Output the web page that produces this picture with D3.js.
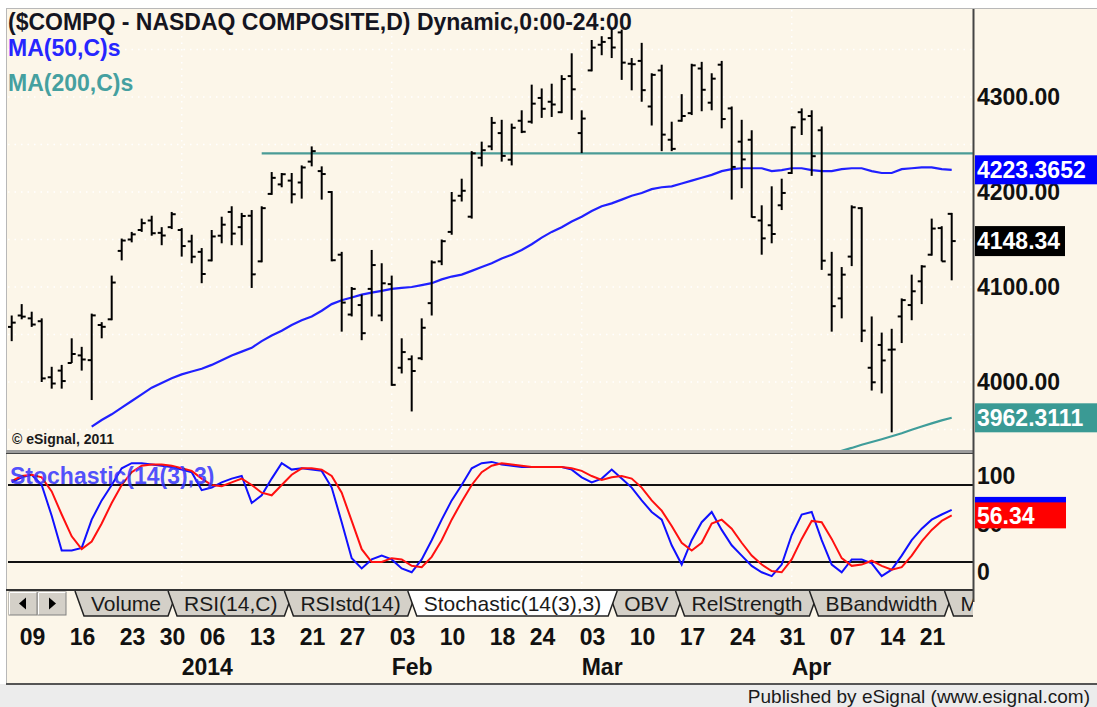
<!DOCTYPE html>
<html lang="en">
<head>
<meta charset="UTF-8">
<script src="https://d3js.org/d3.v7.min.js"></script>
<title>$COMPQ daily</title>
<style>
    body { margin: 0; background: #ffffff; }
    svg { display: block; font-family: "Liberation Sans", Arial, sans-serif; }
</style>
</head>
<body>
<svg id="chart" width="1097" height="707"></svg>
<script>
// trading days shown on the chart
const dates = [
    "2013-12-06","2013-12-09","2013-12-10","2013-12-11","2013-12-12","2013-12-13","2013-12-16","2013-12-17","2013-12-18","2013-12-19","2013-12-20","2013-12-23","2013-12-24","2013-12-26","2013-12-27","2013-12-30","2013-12-31",
    "2014-01-02","2014-01-03","2014-01-06","2014-01-07","2014-01-08","2014-01-09","2014-01-10","2014-01-13","2014-01-14","2014-01-15","2014-01-16","2014-01-17","2014-01-21","2014-01-22","2014-01-23","2014-01-24","2014-01-27","2014-01-28","2014-01-29","2014-01-30","2014-01-31",
    "2014-02-03","2014-02-04","2014-02-05","2014-02-06","2014-02-07","2014-02-10","2014-02-11","2014-02-12","2014-02-13","2014-02-14","2014-02-18","2014-02-19","2014-02-20","2014-02-21","2014-02-24","2014-02-25","2014-02-26","2014-02-27","2014-02-28",
    "2014-03-03","2014-03-04","2014-03-05","2014-03-06","2014-03-07","2014-03-10","2014-03-11","2014-03-12","2014-03-13","2014-03-14","2014-03-17","2014-03-18","2014-03-19","2014-03-20","2014-03-21","2014-03-24","2014-03-25","2014-03-26","2014-03-27","2014-03-28","2014-03-31",
    "2014-04-01","2014-04-02","2014-04-03","2014-04-04","2014-04-07","2014-04-08","2014-04-09","2014-04-10","2014-04-11","2014-04-14","2014-04-15","2014-04-16","2014-04-17","2014-04-21","2014-04-22","2014-04-23","2014-04-24"
];

const opens = [
    4058,4070,4067,4064,4005,4012,4020,4028,4023,4060,4066,4138,4150,4160,4170,4157,4163,
    4160,4148,4137,4128,4154,4179,4163,4175,4127,4198,4208,4212,4210,4232,4222,4200,4134,4071,4081,4098,4070,
    4103,4015,4024,4025,4083,4127,4158,4196,4174,4236,4248,4262,4234,4275,4274,4299,4295,4284,4322,
    4262,4328,4355,4362,4368,4335,4338,4290,4328,4255,4275,4283,4330,4294,4334,4288,4253,4255,4170,4165,4186,
    4220,4284,4280,4265,4113,4088,4132,4183,4015,4039,4034,4069,4081,4106,4134,4162,4177
];
const highs = [
    4070,4082,4074,4067,4016,4018,4046,4037,4072,4063,4112,4151,4158,4172,4175,4163,4179,
    4162,4155,4141,4160,4174,4185,4178,4181,4185,4221,4220,4220,4228,4248,4227,4201,4137,4100,4092,4139,4125,
    4112,4046,4028,4067,4128,4150,4200,4214,4243,4253,4279,4276,4272,4286,4313,4309,4314,4323,4346,
    4286,4360,4364,4372,4371,4341,4357,4325,4334,4274,4303,4335,4337,4325,4338,4290,4276,4265,4186,4206,4214,
    4269,4288,4286,4269,4137,4121,4186,4184,4069,4052,4056,4088,4113,4123,4172,4164,4178
];
const lows = [
    4043,4066,4058,4000,3993,3993,4020,4012,3981,4046,4065,4128,4147,4158,4154,4144,4161,
    4132,4125,4104,4127,4146,4144,4144,4099,4126,4197,4205,4188,4193,4227,4192,4127,4053,4069,4044,4069,4064,
    3996,4009,3969,4023,4070,4123,4155,4190,4172,4227,4244,4232,4228,4262,4272,4278,4279,4283,4276,
    4241,4327,4344,4341,4318,4307,4295,4270,4243,4243,4274,4281,4285,4286,4267,4192,4204,4173,4134,4146,4181,
    4219,4260,4217,4118,4053,4067,4122,4042,3991,3988,3947,4041,4065,4082,4133,4127,4107
];
const closes = [
    4062.5,4068.8,4060.5,4003.8,3998.4,4001.0,4029.5,4023.7,4070.1,4058.1,4104.7,4148.9,4155.4,4167.2,4156.6,4154.2,4176.6,
    4143.1,4131.9,4113.7,4153.2,4165.6,4156.2,4174.7,4113.3,4183.0,4214.9,4218.7,4197.6,4225.8,4243.0,4218.9,4128.2,4083.6,4098.0,4051.4,4123.1,4103.9,
    3997.0,4031.5,4011.6,4057.1,4125.9,4148.2,4191.0,4201.3,4240.7,4244.0,4272.8,4238.0,4267.6,4263.4,4293.0,4287.6,4292.1,4318.9,4308.1,
    4277.3,4352.0,4358.0,4352.1,4336.2,4334.5,4307.2,4323.3,4260.4,4245.4,4280.0,4333.3,4307.6,4319.3,4276.8,4226.4,4234.3,4173.6,4151.2,4155.8,4199.0,
    4268.0,4276.5,4237.7,4127.7,4079.8,4113.0,4183.9,4054.1,3999.7,4022.7,4034.2,4086.2,4095.5,4121.6,4161.5,4127.0,4148.34
];

// moving averages as drawn (null = not drawn)
const ma50 = [
    null,null,null,null,null,null,null,null,3953,3960,3966,3973,3980,3987,3994,3999,4004,
    4008,4011,4014,4018,4023,4028,4032,4036,4043,4049,4054,4060,4065,4069,4075,4082,4086,4089,4092,4094,4096,
    4098,4099,4100,4102,4104,4108,4111,4113,4117,4121,4125,4130,4134,4139,4145,4152,4158,4163,4169,
    4174,4180,4185,4188,4192,4196,4199,4203,4205,4206,4209,4212,4215,4218,4222,4224,4225,4225,4225,4222,4223,
    4225,4225,4223,4222,4222,4224,4225,4225,4222,4220,4220,4224,4225,4226,4226,4224,4223.3652
];
const ma200 = [
    null,null,null,null,null,null,null,null,null,null,null,null,null,null,null,null,null,
    null,null,null,null,null,null,null,null,null,null,null,null,null,null,null,null,null,null,null,null,null,
    null,null,null,null,null,null,null,null,null,null,null,null,null,null,null,null,null,null,null,
    null,null,null,null,null,null,null,null,null,null,null,null,null,null,null,null,null,null,null,null,null,
    null,null,null,null,3924.6,3927.6,3930.6,3933.9,3936.9,3939.8,3942.9,3946.1,3949.8,3953.2,3956.4,3959.6,3962.3111
];

// Stochastic(14(3),3)
const stochK = [
    82,86,88,80,56,29,29,31,53,68,80,93,97,97,96,95,94,
    92,90,76,78,82,85,87,66,72,85,97,92,93,92,91,78,51,23,15,22,25,
    22,15,12,22,37,53,68,80,93,97,98,96,95,94,94,94,94,94,92,
    86,82,85,92,85,78,68,59,53,33,18,37,51,59,45,33,25,17,12,9,18,
    41,57,59,37,18,12,22,22,19,9,14,25,37,46,53,57,60.6
];
const stochD = [
    83,87,88,86,75,57,40,30,36,50,66,80,90,95,96,96,95,
    93,91,85,80,79,82,85,80,74,72,80,88,93,93,92,87,74,52,30,20,20,
    23,22,17,16,24,37,53,67,80,90,95,97,96,95,94,94,94,94,93,
    91,87,84,86,87,85,78,68,60,48,35,29,35,50,53,46,35,25,18,13,12,
    22,38,52,51,38,23,17,18,21,17,14,16,25,36,45,52,56.34
];

const priceTicks = [4000, 4100, 4200, 4300];
const priceGrid = [3950, 4000, 4050, 4100, 4150, 4200, 4250, 4300, 4350];
const stochTicks = [0, 50, 100];
const stochLevels = [20, 80];
const dayTicks = ["2013-12-09","2013-12-16","2013-12-23","2013-12-30","2014-01-06","2014-01-13","2014-01-21","2014-01-27",
    "2014-02-03","2014-02-10","2014-02-18","2014-02-24","2014-03-03","2014-03-10","2014-03-17","2014-03-24","2014-03-31",
    "2014-04-07","2014-04-14","2014-04-21"];
const monthTicks = ["2014-01-02","2014-02-03","2014-03-03","2014-04-01"];
const monthNames = ["2014","Feb","Mar","Apr"];
const hLineValue = 4240.7;
const hLineStart = "2014-01-14";
const tabNames = ["Volume","RSI(14,C)","RSIstd(14)","Stochastic(14(3),3)","OBV","RelStrength","BBandwidth","MACD"];
const activeTab = 3;

// ---------------------------------------------------------------
const svg = d3.select("#chart");
const plotLeft = 8, plotRight = 973;
const priceTop = 10, priceBottom = 450;
const stochTop = 454, stochBottom = 590;
const cream = "#fcf6e9";

const x = d3.scalePoint().domain(dates).range([11.7, 951.7]);
const y = d3.scaleLinear().domain([4000, 4300]).range([382, 97]);
const ys = d3.scaleLinear().domain([20, 80]).range([562, 485]);
const ysLabel = d3.scaleLinear().domain([0, 100]).range([572, 476]);

// background + frame
svg.append("rect").attr("x", 0).attr("y", 0).attr("width", 1097).attr("height", 707).attr("fill", "#ffffff");
svg.append("rect").attr("x", 6).attr("y", 8).attr("width", 1091).attr("height", 676).attr("fill", cream);
svg.append("line").attr("x1", 6).attr("x2", 1097).attr("y1", 8.5).attr("y2", 8.5).attr("stroke", "#b8b8b8");
svg.append("line").attr("x1", 6.5).attr("x2", 6.5).attr("y1", 8).attr("y2", 684).attr("stroke", "#b8b8b8");

const defs = svg.append("defs");
defs.append("clipPath").attr("id", "clipPrice").append("rect")
    .attr("x", plotLeft).attr("y", priceTop).attr("width", plotRight - plotLeft).attr("height", priceBottom - priceTop);
defs.append("clipPath").attr("id", "clipStoch").append("rect")
    .attr("x", plotLeft).attr("y", stochTop).attr("width", plotRight - plotLeft).attr("height", stochBottom - stochTop);

// dotted grid
const grid = svg.append("g").attr("stroke", "#ffffff").attr("stroke-width", 1.5).attr("stroke-dasharray", "1.5 5");
grid.selectAll(".gh").data(priceGrid).enter().append("line")
    .attr("x1", plotLeft).attr("x2", plotRight).attr("y1", d => y(d)).attr("y2", d => y(d));
grid.selectAll(".gv").data(monthTicks).enter().append("line")
    .attr("x1", d => x(d)).attr("x2", d => x(d)).attr("y1", priceTop).attr("y2", stochBottom);

// title block
svg.append("text").attr("x", 8).attr("y", 30).attr("font-size", 23).attr("font-weight", "bold")
    .attr("fill", "#15151f").text("($COMPQ - NASDAQ COMPOSITE,D) Dynamic,0:00-24:00");
svg.append("text").attr("x", 8).attr("y", 56).attr("font-size", 23).attr("font-weight", "bold")
    .attr("fill", "#2626ff").text("MA(50,C)s");
svg.append("text").attr("x", 8).attr("y", 91).attr("font-size", 23).attr("font-weight", "bold")
    .attr("fill", "#45a0a0").text("MA(200,C)s");
svg.append("text").attr("x", 12).attr("y", 444).attr("font-size", 14).attr("font-weight", "bold")
    .attr("fill", "#1a1a1a").text("\u00a9 eSignal, 2011");

// price pane
const price = svg.append("g").attr("clip-path", "url(#clipPrice)");

price.append("line")
    .attr("x1", x(hLineStart)).attr("x2", plotRight)
    .attr("y1", y(hLineValue)).attr("y2", y(hLineValue))
    .attr("stroke", "#4a9b96").attr("stroke-width", 2.2);

const maLine = d3.line().defined(d => d[1] !== null).x(d => x(d[0])).y(d => y(d[1]));
price.append("path").attr("d", maLine(dates.map((d, i) => [d, ma50[i]])))
    .attr("fill", "none").attr("stroke", "#2020ff").attr("stroke-width", 2.2);
price.append("path").attr("d", maLine(dates.map((d, i) => [d, ma200[i]])))
    .attr("fill", "none").attr("stroke", "#3f9d9a").attr("stroke-width", 2.2);

const bars = price.append("g").attr("stroke", "#000").attr("stroke-width", 2);
bars.selectAll(".hl").data(dates).enter().append("line")
    .attr("x1", d => x(d)).attr("x2", d => x(d))
    .attr("y1", (d, i) => y(highs[i])).attr("y2", (d, i) => y(lows[i]));
bars.selectAll(".op").data(dates).enter().append("line")
    .attr("x1", d => x(d) - 4).attr("x2", d => x(d))
    .attr("y1", (d, i) => y(opens[i])).attr("y2", (d, i) => y(opens[i]));
bars.selectAll(".cl").data(dates).enter().append("line")
    .attr("x1", d => x(d)).attr("x2", d => x(d) + 4)
    .attr("y1", (d, i) => y(closes[i])).attr("y2", (d, i) => y(closes[i]));

// price axis labels
svg.selectAll(".pt").data(priceTicks).enter().append("text")
    .attr("x", 977).attr("y", d => y(d)).attr("dy", "0.36em")
    .attr("font-size", 23).attr("font-weight", "bold").attr("fill", "#111")
    .text(d => d3.format(".2f")(d));

function valueBox(v, label, fill, w, h) {
    svg.append("rect").attr("x", 975).attr("y", y(v) - h / 2).attr("width", w).attr("height", h).attr("fill", fill);
    svg.append("text").attr("x", 977).attr("y", y(v)).attr("dy", "0.36em")
        .attr("font-size", 23).attr("font-weight", "bold").attr("fill", "#fff").text(label);
}
valueBox(ma50[ma50.length - 1], "4223.3652", "#0000ff", 122, 29);
valueBox(closes[closes.length - 1], "4148.34", "#000000", 90, 30);
valueBox(ma200[ma200.length - 1], "3962.3111", "#3a9a94", 122, 29);

// pane separator
svg.append("rect").attr("x", 6).attr("y", priceBottom).attr("width", plotRight - 6).attr("height", 4).attr("fill", "#9c9c9c");
svg.append("line").attr("x1", 6).attr("x2", plotRight).attr("y1", priceBottom + 3.5).attr("y2", priceBottom + 3.5).attr("stroke", "#444");

// stochastic pane
const stoch = svg.append("g").attr("clip-path", "url(#clipStoch)");
stoch.selectAll(".lv").data(stochLevels).enter().append("line")
    .attr("x1", plotLeft).attr("x2", plotRight).attr("y1", d => ys(d)).attr("y2", d => ys(d))
    .attr("stroke", "#111").attr("stroke-width", 2);
const sLine = d3.line().x(d => x(d[0])).y(d => ys(d[1]));
stoch.append("path").attr("d", sLine(dates.map((d, i) => [d, stochK[i]])))
    .attr("fill", "none").attr("stroke", "#1010ff").attr("stroke-width", 2);
stoch.append("path").attr("d", sLine(dates.map((d, i) => [d, stochD[i]])))
    .attr("fill", "none").attr("stroke", "#ff1010").attr("stroke-width", 2);
svg.append("text").attr("x", 10).attr("y", 484).attr("font-size", 23).attr("font-weight", "bold")
    .attr("fill", "#3333ff").attr("fill-opacity", 0.85).text("Stochastic(14(3),3)");

svg.selectAll(".st").data(stochTicks).enter().append("text")
    .attr("x", 977).attr("y", d => ysLabel(d)).attr("dy", "0.36em")
    .attr("font-size", 23).attr("font-weight", "bold").attr("fill", "#111").text(d => d);
function stochBox(v, label, fill) {
    svg.append("rect").attr("x", 975).attr("y", ys(v) - 13).attr("width", 91).attr("height", 26).attr("fill", fill);
    svg.append("text").attr("x", 977).attr("y", ys(v)).attr("dy", "0.36em")
        .attr("font-size", 23).attr("font-weight", "bold").attr("fill", "#fff").text(label);
}
stochBox(stochK[stochK.length - 1], "", "#0000ff");
stochBox(stochD[stochD.length - 1], "56.34", "#ff0000");

// tabs row
const tabTop = 590, tabBottom = 616;
svg.append("line").attr("x1", 6).attr("x2", plotRight).attr("y1", tabTop).attr("y2", tabTop).attr("stroke", "#333").attr("stroke-width", 2);
const btns = [[9, "left"], [38, "right"]];
btns.forEach(([bx, dir]) => {
    svg.append("rect").attr("x", bx).attr("y", tabTop + 2).attr("width", 28).attr("height", 23)
        .attr("fill", "#d4d0c8").attr("stroke", "#808080");
    svg.append("path").attr("d", `M${bx + 0.5},${tabTop + 24.5}V${tabTop + 2.5}H${bx + 27.5}`)
        .attr("fill", "none").attr("stroke", "#fff");
    const cx = bx + 14, cy = tabTop + 13.5;
    const tri = dir === "left" ? `M${cx - 4},${cy}L${cx + 3},${cy - 6}L${cx + 3},${cy + 6}Z`
                               : `M${cx + 4},${cy}L${cx - 3},${cy - 6}L${cx - 3},${cy + 6}Z`;
    svg.append("path").attr("d", tri).attr("fill", "#000");
});

defs.append("clipPath").attr("id", "clipTabs").append("rect")
    .attr("x", 68).attr("y", tabTop - 2).attr("width", plotRight - 68).attr("height", 30);
const tabs = svg.append("g").attr("clip-path", "url(#clipTabs)");
const slant = 9;
let tabX = 75;
const tabShapes = tabNames.map(name => {
    const probe = svg.append("text").attr("font-size", 21).text(name);
    const w = probe.node().getComputedTextLength();
    probe.remove();
    const left = tabX, right = tabX + slant + 7 + w + 7 + slant;
    tabX = right - slant;
    return { name, left, right };
});
function drawTab(t, active) {
    const g = tabs.append("g");
    g.append("path")
        .attr("d", `M${t.left},${tabTop + 1}L${t.left + slant},${tabBottom}L${t.right - slant},${tabBottom}L${t.right},${tabTop + 1}`)
        .attr("fill", active ? "#ffffff" : "#d4d0c8").attr("stroke", "#222").attr("stroke-width", 1.5);
    g.append("text").attr("x", t.left + slant + 7).attr("y", tabBottom - 5).attr("font-size", 21)
        .attr("fill", "#1a1a1a").text(t.name);
}
tabShapes.forEach((t, i) => { if (i !== activeTab) drawTab(t, false); });
drawTab(tabShapes[activeTab], true);

// right axis line
svg.append("line").attr("x1", plotRight + 0.5).attr("x2", plotRight + 0.5).attr("y1", 9).attr("y2", 602)
    .attr("stroke", "#444").attr("stroke-width", 2);

// date axis
svg.selectAll(".dt").data(dayTicks).enter().append("text")
    .attr("x", d => x(d) - 2).attr("y", 645).attr("font-size", 23).attr("font-weight", "bold").attr("fill", "#111")
    .text(d => d.slice(8));
svg.selectAll(".mt").data(monthTicks).enter().append("text")
    .attr("x", d => x(d)).attr("y", 675).attr("font-size", 23).attr("font-weight", "bold").attr("fill", "#111")
    .text((d, i) => monthNames[i]);

// footer
svg.append("rect").attr("x", 0).attr("y", 684).attr("width", 1097).attr("height", 23).attr("fill", "#ececec");
svg.append("line").attr("x1", 6).attr("x2", 1097).attr("y1", 684).attr("y2", 684).attr("stroke", "#555").attr("stroke-width", 2);
svg.append("text").attr("x", 1090).attr("y", 703).attr("text-anchor", "end").attr("font-size", 19)
    .attr("fill", "#1a1a1a").text("Published by eSignal (www.esignal.com)");
</script>
</body>
</html>
